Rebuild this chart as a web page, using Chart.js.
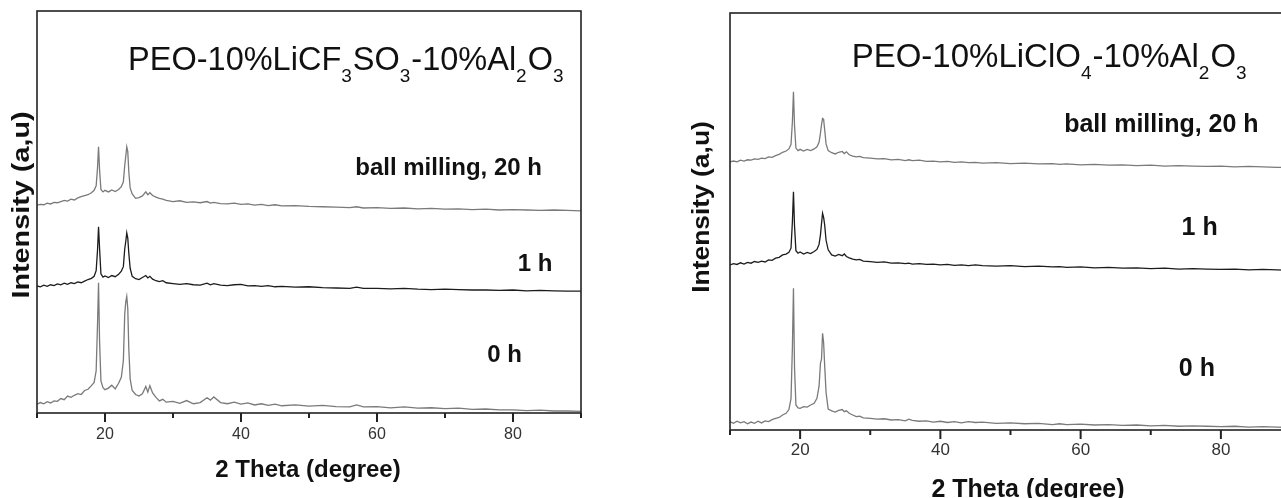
<!DOCTYPE html>
<html>
<head>
<meta charset="utf-8">
<script src="https://cdn.jsdelivr.net/npm/chart.js@4.4.1/dist/chart.umd.min.js"></script>
<style>
html, body { margin: 0; padding: 0; background: #fff; overflow: hidden; width: 1281px; height: 498px; }
#left { position: absolute; left: 0; top: 0; }
#right { position: absolute; left: 660px; top: 0; }
</style>
</head>
<body>
<canvas id="left" width="640" height="498"></canvas>
<canvas id="right" width="660" height="498"></canvas>
<script>
// 2 theta positions (degree), shared by all six patterns
var twoTheta = [10, 10.5, 11, 11.5, 12, 12.5, 13, 13.5, 14, 14.5, 15, 15.5, 16, 16.5, 17, 17.5, 18,
    18.4, 18.7, 18.9, 19.05, 19.2, 19.4, 19.7,
    20, 20.5, 21, 21.5, 22,
    22.4, 22.7, 22.9, 23.05, 23.2, 23.35, 23.5, 23.7,
    24, 24.5, 25, 25.5, 26,
    26.3, 26.6, 27, 27.5, 28, 28.5, 29,
    30, 31, 32, 33, 34, 35,
    35.5, 36,
    37, 38, 39, 40, 41, 42, 43, 44, 45, 46,
    48, 50, 52, 54, 56,
    57, 58,
    60, 62, 64, 66, 68, 70, 72, 74, 76, 78, 80, 82, 84, 86, 88, 90];

var xTicks = [10, 20, 30, 40, 50, 60, 70, 80, 90];

// PEO-10%LiCF3SO3-10%Al2O3 (intensity, a.u., offset stacked)
var cf_0h = [2.2, 2.6, 2.3, 2.8, 2.5, 3.0, 2.9, 3.6, 3.3, 4.2, 3.9, 4.4, 4.8, 4.6, 5.6, 5.9, 6.8,
    7.6, 10.5, 22.0, 32.4, 18.0, 8.0, 6.3,
    5.8, 6.2, 6.9, 6.0, 7.4,
    8.9, 13.0, 24.5, 27.6, 29.0, 26.0, 16.0, 8.5,
    5.6, 4.6, 4.2, 4.8, 6.6,
    5.2, 6.8, 5.0, 3.9, 3.0, 3.4, 2.7,
    2.9, 2.4, 3.1, 2.3, 2.6, 3.8,
    3.2, 4.0,
    2.6, 2.3, 2.7, 2.2, 2.5, 2.0, 2.3, 1.9, 2.2, 1.8,
    2.0, 1.7, 1.9, 1.6, 1.5,
    2.0, 1.5,
    1.6, 1.3, 1.5, 1.2, 1.3, 1.1, 1.2, 0.9, 1.0, 0.8, 0.8, 0.6, 0.7, 0.5, 0.5, 0.4];
var cf_1h = [31.6, 31.4, 31.8, 31.5, 31.9, 31.7, 32.1, 31.9, 32.3, 32.0, 32.4, 32.2, 32.6, 32.4, 32.8, 33.2, 33.5,
    34.0, 35.4, 40.5, 46.3, 41.0, 34.6, 33.8,
    34.1, 33.7, 34.2, 33.9, 34.5,
    35.3, 36.4, 40.8, 42.6, 44.8, 43.5, 39.8, 36.0,
    34.0, 33.4, 33.2, 33.7, 34.2,
    33.6, 34.0, 33.3, 32.9, 32.7, 32.9, 32.4,
    32.2, 32.0, 32.2, 31.9, 31.8, 32.3,
    31.9, 32.2,
    31.8, 31.7, 31.9, 32.0, 31.6, 31.7, 31.5, 31.7, 31.4, 31.5,
    31.3, 31.4, 31.2, 31.1, 31.0,
    31.3, 31.0,
    31.0, 30.9, 31.0, 30.8, 30.7, 30.8, 30.7, 30.6, 30.6, 30.5, 30.6, 30.4, 30.5, 30.4, 30.3, 30.3];
var cf_20h = [51.7, 51.9, 51.8, 52.2, 52.0, 52.4, 52.3, 52.6, 52.9, 52.7, 53.2, 53.0, 53.5, 53.8, 54.1, 54.3, 54.8,
    55.4, 56.5, 61.0, 66.2, 60.5, 55.6, 55.0,
    55.4, 55.0, 55.5, 55.1, 55.6,
    56.3, 57.5, 61.5, 63.8, 66.2, 65.0, 60.0, 56.0,
    54.5, 53.4, 53.6, 54.0, 55.0,
    54.3, 54.8, 54.1, 53.7, 53.4, 53.2, 52.9,
    52.6, 52.8, 52.4, 52.5, 52.3, 52.6,
    52.2, 52.4,
    52.1, 52.0, 52.2, 51.9, 52.0, 51.7, 51.9, 51.6, 51.8, 51.5,
    51.6, 51.4, 51.3, 51.2, 51.1,
    51.3, 51.0,
    51.1, 50.9, 51.0, 50.8, 50.9, 50.7, 50.8, 50.6, 50.7, 50.5, 50.6, 50.5, 50.4, 50.5, 50.4, 50.3];

// PEO-10%LiClO4-10%Al2O3
var cl_0h = [2.0, 1.6, 2.1, 1.7, 2.0, 1.5, 1.9, 1.6, 2.1, 1.7, 2.2, 2.0, 2.5, 2.8, 3.0, 3.6, 4.0,
    4.9, 7.5, 20.0, 34.0, 15.0, 6.0, 5.3,
    5.2, 5.6, 5.5, 6.0, 6.4,
    7.6, 10.5, 16.0, 17.0, 23.2, 21.0, 15.5, 9.0,
    5.0, 4.6, 4.3, 4.7, 4.9,
    4.4, 4.6, 4.0, 3.6, 3.2, 3.3, 2.9,
    2.8, 2.6, 2.7, 2.4, 2.5, 2.2,
    2.6, 2.3,
    2.1, 2.2, 1.9, 2.1, 1.8, 2.0, 1.7, 2.0, 1.8, 1.9,
    1.6, 1.7, 1.5, 1.6, 1.3,
    1.5, 1.3,
    1.4, 1.2, 1.3, 1.1, 1.2, 1.0, 1.1, 0.9, 1.0, 0.9, 0.8, 0.9, 0.7, 0.8, 0.7, 0.6];
var cl_1h = [39.6, 39.9, 39.7, 40.1, 39.8, 40.2, 40.0, 40.4, 40.2, 40.5, 40.3, 40.8, 40.7, 41.2, 41.4, 42.0, 42.2,
    42.6, 43.6, 50.0, 57.1, 49.0, 43.0, 42.4,
    42.7, 42.2, 42.6, 42.3, 42.8,
    43.3, 44.5, 46.8, 49.5, 52.0, 51.0, 49.2, 45.5,
    43.2, 42.0, 41.7, 42.1, 41.8,
    42.2, 41.6, 41.3, 41.0, 40.8, 40.9, 40.5,
    40.4, 40.2, 40.3, 40.0, 40.1, 39.9,
    40.0, 39.8,
    39.9, 39.7, 39.8, 39.6, 39.7, 39.5, 39.6, 39.4, 39.6, 39.4,
    39.3, 39.4, 39.2, 39.3, 39.1,
    39.2, 39.0,
    39.1, 38.9, 39.0, 38.8, 38.9, 38.7, 38.8, 38.6, 38.7, 38.6, 38.5, 38.6, 38.4, 38.5, 38.4, 38.3];
var cl_20h = [64.3, 64.5, 64.3, 64.7, 64.5, 64.8, 64.7, 65.0, 64.9, 65.2, 65.1, 65.5, 65.4, 65.8, 66.1, 66.6, 66.9,
    67.4, 68.5, 74.0, 81.1, 73.0, 67.6, 67.0,
    67.3, 66.9, 67.3, 67.0, 67.4,
    67.9, 69.0, 71.2, 73.2, 74.7, 74.5, 72.0, 68.6,
    67.0, 66.5, 66.2, 66.6, 66.8,
    66.3, 66.7, 66.0, 65.7, 65.5, 65.6, 65.3,
    65.2, 65.0, 65.1, 64.8, 64.9, 64.6,
    64.8, 64.6,
    64.7, 64.4, 64.5, 64.3, 64.4, 64.2, 64.3, 64.1, 64.2, 64.0,
    64.1, 63.9, 64.0, 63.8, 63.9,
    63.7, 63.8,
    63.6, 63.7, 63.5, 63.6, 63.4, 63.5, 63.3, 63.4, 63.3, 63.2, 63.3, 63.1, 63.2, 63.1, 63.0, 63.0];

var sans = '"Liberation Sans", Arial, Helvetica, sans-serif';
var grayLine = '#7a7a7a';
var blackLine = '#1c1c1c';

function toPoints(values) {
    return twoTheta.map(function (x, i) { return { x: x, y: values[i] }; });
}

// frame, tick marks and all the text
var decor = {
    id: 'decor',
    afterDraw: function (chart, args, o) {
        var ctx = chart.ctx, a = chart.chartArea;
        var xs = chart.scales.x, ys = chart.scales.y;
        ctx.save();
        ctx.strokeStyle = '#222';
        ctx.lineWidth = 1.6;
        ctx.strokeRect(a.left, a.top, a.right - a.left, a.bottom - a.top);

        ctx.lineWidth = 2;
        xs.ticks.forEach(function (t) {
            var px = xs.getPixelForValue(t.value);
            var len = t.value % 20 === 0 ? 9 : 5;
            ctx.beginPath();
            ctx.moveTo(px, a.bottom);
            ctx.lineTo(px, a.bottom + len);
            ctx.stroke();
        });

        ctx.fillStyle = '#111';
        ctx.textBaseline = 'alphabetic';
        ctx.textAlign = 'left';

        // formula with subscripts
        var fx = xs.getPixelForValue(o.formulaAt[0]);
        var fy = ys.getPixelForValue(o.formulaAt[1]);
        o.formula.forEach(function (p) {
            var sub = p[1];
            ctx.font = (sub ? 19 : o.formulaSize) + 'px ' + sans;
            ctx.fillText(p[0], fx, sub ? fy + 12 : fy);
            fx += ctx.measureText(p[0]).width + (sub ? 1 : 0);
        });

        // curve labels
        ctx.font = 'bold ' + o.labelSize + 'px ' + sans;
        o.labels.forEach(function (l) {
            ctx.fillText(l[0], xs.getPixelForValue(l[1]), ys.getPixelForValue(l[2]));
        });

        // x axis title
        ctx.textAlign = 'center';
        ctx.font = 'bold ' + o.labelSize + 'px ' + sans;
        ctx.fillText('2 Theta (degree)', o.xTitle[0], o.xTitle[1]);

        // y axis title (rotated, a little stretched like the original)
        ctx.translate(o.yTitle[0], o.yTitle[1]);
        ctx.rotate(-Math.PI / 2);
        ctx.scale(o.yTitle[2], 1);
        ctx.font = 'bold 24px ' + sans;
        ctx.textBaseline = 'middle';
        ctx.fillText('Intensity (a,u)', 0, 0);
        ctx.restore();
    }
};

function makeChart(id, series, p) {
    return new Chart(document.getElementById(id), {
        type: 'line',
        data: {
            datasets: [
                { label: '0 h', data: toPoints(series[0]), borderColor: grayLine },
                { label: '1 h', data: toPoints(series[1]), borderColor: blackLine },
                { label: 'ball milling, 20 h', data: toPoints(series[2]), borderColor: grayLine }
            ]
        },
        options: {
            responsive: false,
            animation: false,
            layout: { padding: { top: p.top, right: p.right, left: 0, bottom: 0 } },
            elements: {
                point: { radius: 0 },
                line: { borderWidth: 1.3, tension: 0 }
            },
            scales: {
                x: {
                    type: 'linear',
                    min: 10,
                    max: 90,
                    afterBuildTicks: function (s) { s.ticks = xTicks.map(function (v) { return { value: v }; }); },
                    afterFit: function (s) { s.height = p.xHeight; },
                    ticks: {
                        autoSkip: false,
                        maxRotation: 0,
                        padding: p.tickPad,
                        color: '#333',
                        font: { family: sans, size: p.tickSize },
                        callback: function (v) { return v % 20 === 0 ? v : ''; }
                    },
                    grid: { display: false, drawTicks: false },
                    border: { display: false }
                },
                y: {
                    min: 0,
                    max: 100,
                    afterFit: function (s) { s.width = p.yWidth; },
                    ticks: { display: false },
                    grid: { display: false, drawTicks: false },
                    border: { display: false }
                }
            },
            plugins: {
                legend: { display: false },
                tooltip: { enabled: false },
                decor: p.decor
            }
        },
        plugins: [decor]
    });
}

makeChart('left', [cf_0h, cf_1h, cf_20h], {
    top: 11, right: 59, yWidth: 37, xHeight: 85, tickPad: 12, tickSize: 16,
    decor: {
        formula: [['PEO-10%LiCF', 0], ['3', 1], ['SO', 0], ['3', 1], ['-10%Al', 0], ['2', 1], ['O', 0], ['3', 1]],
        formulaAt: [23.4, 85.3],
        formulaSize: 32.5,
        labelSize: 24,
        labels: [['ball milling, 20 h', 56.8, 59.2], ['1 h', 80.7, 35.3], ['0 h', 76.2, 12.7]],
        xTitle: [308, 477],
        yTitle: [22, 205, 1.2]
    }
});

makeChart('right', [cl_0h, cl_1h, cl_20h], {
    top: 13, right: 29, yWidth: 70, xHeight: 68, tickPad: 10, tickSize: 17,
    decor: {
        formula: [['PEO-10%LiClO', 0], ['4', 1], ['-10%Al', 0], ['2', 1], ['O', 0], ['3', 1]],
        formulaAt: [27.35, 87.1],
        formulaSize: 33,
        labelSize: 25,
        labels: [['ball milling, 20 h', 57.65, 71.5], ['1 h', 74.4, 46.8], ['0 h', 74.0, 12.9]],
        xTitle: [368, 497],
        yTitle: [42, 207, 1.1]
    }
});
</script>
</body>
</html>
